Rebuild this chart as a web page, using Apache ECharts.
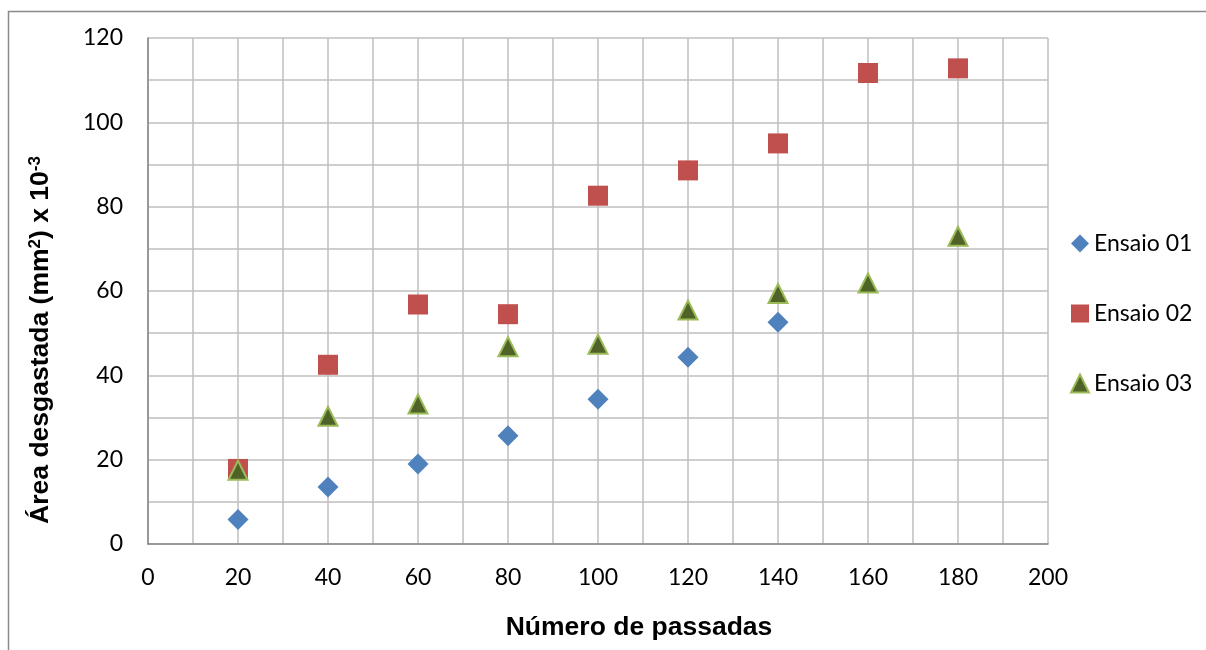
<!DOCTYPE html>
<html>
<head>
<meta charset="utf-8">
<script src="https://cdn.jsdelivr.net/npm/echarts@6/dist/echarts.min.js"></script>
<style>
  html, body { margin: 0; padding: 0; background: #fff; }
  #chart { width: 1206px; height: 650px; }
</style>
</head>
<body>
<div id="chart"></div>
<script>
// ---- data ----
const passadas = [20, 40, 60, 80, 100, 120, 140, 160, 180];
const ensaio01 = [5.8, 13.5, 19.0, 25.7, 34.3, 44.3, 52.6];
const ensaio02 = [17.8, 42.5, 56.8, 54.5, 82.6, 88.6, 95.0, 111.7, 112.8];
const ensaio03 = [17.5, 30.3, 33.2, 46.8, 47.4, 55.5, 59.4, 61.9, 73.0];
const seriesNames = ['Ensaio 01', 'Ensaio 02', 'Ensaio 03'];
const xTicks = [0, 20, 40, 60, 80, 100, 120, 140, 160, 180, 200];
const yTicks = [0, 20, 40, 60, 80, 100, 120];
const xTitle = 'Número de passadas';

function pairs(vals) { return vals.map((v, i) => [passadas[i], v]); }

const chart = echarts.init(document.getElementById('chart'));
const tickFont = { fontFamily: 'Lato', fontSize: 23, color: '#000' };
const gridLine = { lineStyle: { color: '#BFBFBF', width: 1.5 } };
const titleFamily = '"Liberation Sans", Arial, sans-serif';

chart.setOption({
  animation: false,
  backgroundColor: '#fff',
  graphic: [{
    type: 'rect',
    shape: { x: 8.5, y: 11.5, width: 1300, height: 800 },
    style: { fill: 'none', stroke: '#8A8A8A', lineWidth: 1.5 },
    silent: true, z: -10
  }],
  grid: { left: 148, top: 38, width: 900, height: 506, containLabel: false },
  xAxis: {
    type: 'value',
    min: xTicks[0], max: xTicks[xTicks.length - 1], interval: xTicks[1] - xTicks[0],
    name: xTitle,
    nameLocation: 'middle',
    nameGap: 70,
    nameTextStyle: { fontFamily: titleFamily, fontWeight: 'bold', fontSize: 26.5, color: '#000', padding: [0, 0, 0, 82] },
    axisLine: { show: true, onZero: false, lineStyle: { color: '#868686', width: 1.5 } },
    axisTick: { show: false },
    axisLabel: Object.assign({ margin: 22 }, tickFont),
    splitLine: Object.assign({ show: true }, gridLine),
    minorTick: { show: false, splitNumber: 2 },
    minorSplitLine: Object.assign({ show: true }, gridLine)
  },
  yAxis: {
    type: 'value',
    min: yTicks[0], max: yTicks[yTicks.length - 1], interval: yTicks[1] - yTicks[0],
    name: '{b|Área desgastada (mm}{s|2}{b|) x 10}{s|-3}',
    nameLocation: 'middle',
    nameGap: 94,
    nameTextStyle: {
      padding: [0, 98, 0, 0],
      rich: {
        b: { fontFamily: titleFamily, fontWeight: 'bold', fontSize: 26.5, color: '#000', verticalAlign: 'bottom' },
        s: { fontFamily: titleFamily, fontWeight: 'bold', fontSize: 17, color: '#000', verticalAlign: 'top' }
      }
    },
    axisLine: { show: true, onZero: false, lineStyle: { color: '#868686', width: 1.5 } },
    axisTick: { show: false },
    axisLabel: Object.assign({ margin: 25 }, tickFont),
    splitLine: Object.assign({ show: true }, gridLine),
    minorTick: { show: false, splitNumber: 2 },
    minorSplitLine: Object.assign({ show: true }, gridLine)
  },
  legend: {
    orient: 'vertical',
    left: 1065,
    top: 227,
    itemGap: 47,
    itemWidth: 18,
    itemHeight: 18,
    textStyle: { fontFamily: 'Lato', fontSize: 23, color: '#000' },
    data: seriesNames
  },
  series: [
    {
      name: seriesNames[0], type: 'scatter', symbol: 'diamond', symbolSize: 21,
      itemStyle: { color: '#4F81BD', opacity: 1 },
      data: pairs(ensaio01)
    },
    {
      name: seriesNames[1], type: 'scatter', symbol: 'rect', symbolSize: 20,
      itemStyle: { color: '#C0504D', opacity: 1 },
      data: pairs(ensaio02)
    },
    {
      name: seriesNames[2], type: 'scatter', symbol: 'triangle', symbolSize: 19,
      itemStyle: { color: '#4F6228', borderColor: '#9BBB59', borderWidth: 2, opacity: 1 },
      data: pairs(ensaio03)
    }
  ]
});
</script>
</body>
</html>
